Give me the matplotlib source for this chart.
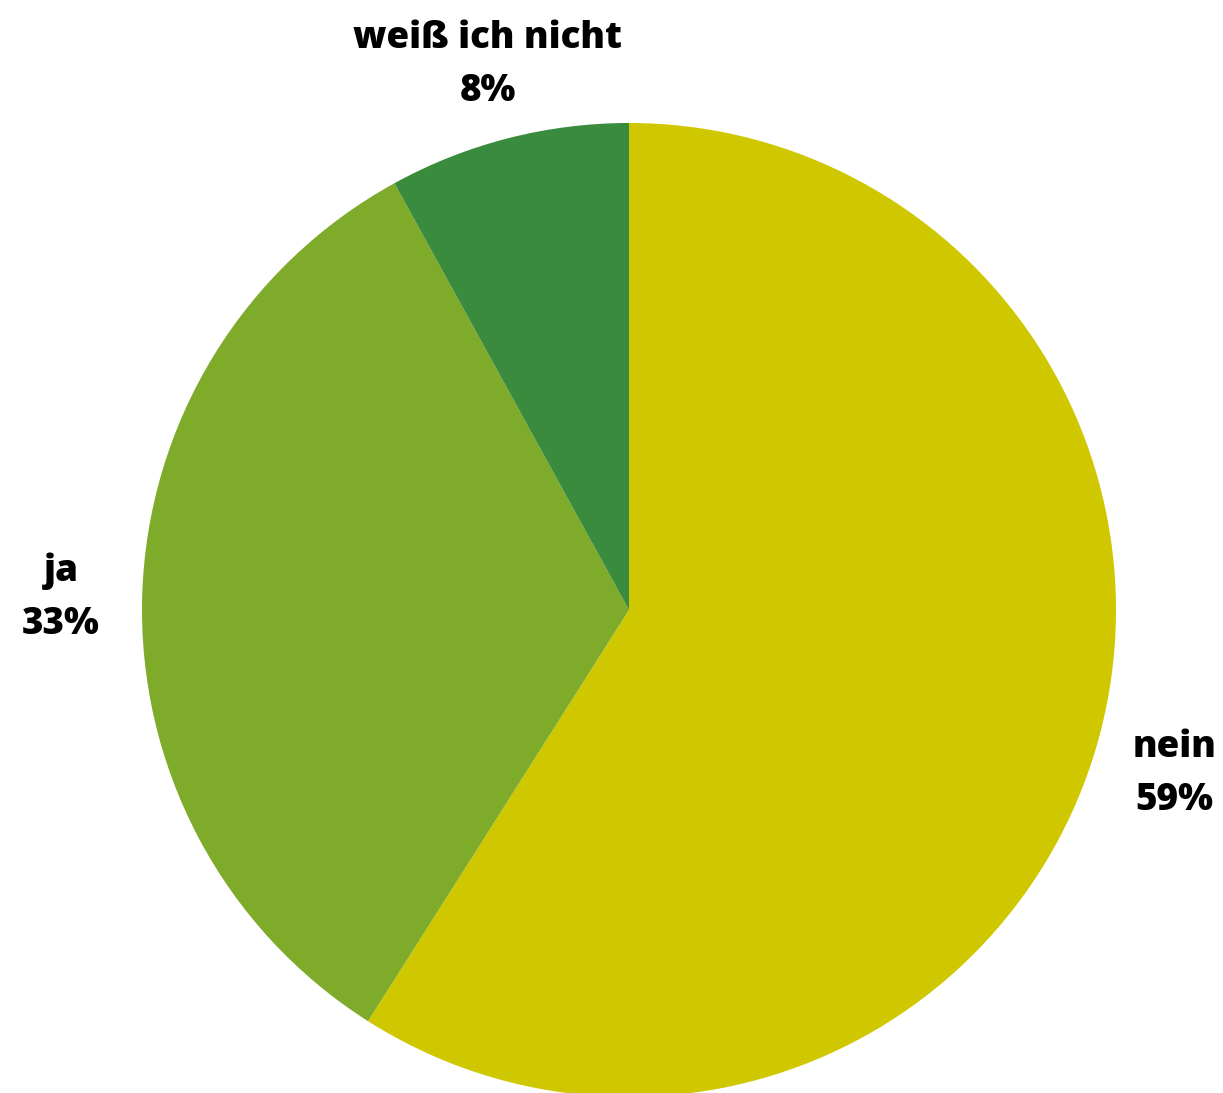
import matplotlib.pyplot as plt

# Daten
categories = ["nein", "ja", "weiß ich nicht"]
values = [59, 33, 8]
colors = ["#CFC700", "#7FAB2A", "#3A8B3E"]

plt.rcParams['font.family'] = ['Open Sans', 'DejaVu Sans']

fig = plt.figure(figsize=(12.23, 10.93), dpi=100)
ax = fig.add_axes([0, 0, 1, 1])

labels = [f"{c}\n{v}%" for c, v in zip(categories, values)]
wedges, texts = ax.pie(values, labels=labels, colors=colors, startangle=90,
                       counterclock=False, radius=1.0, labeldistance=1.167,
                       wedgeprops=dict(linewidth=0),
                       textprops=dict(fontsize=26.5, fontweight='heavy', color='black'))
for t in texts:
    t.set_horizontalalignment('center')
    t.set_verticalalignment('center')
    t.set_linespacing(1.58)
    x, y = t.get_position()
    t.set_position((x, y - 0.011))  # leicht nach unten

# Kreis-Mittelpunkt bei ca. (629, 610) px, Radius ca. 487 px
ax.set_xlim(-629 / 487, (1223 - 629) / 487)
ax.set_ylim(-(1093 - 610) / 487, 610 / 487)
ax.set_aspect('auto')
ax.axis('off')

fig.savefig("out.png", dpi=100, facecolor='white')
